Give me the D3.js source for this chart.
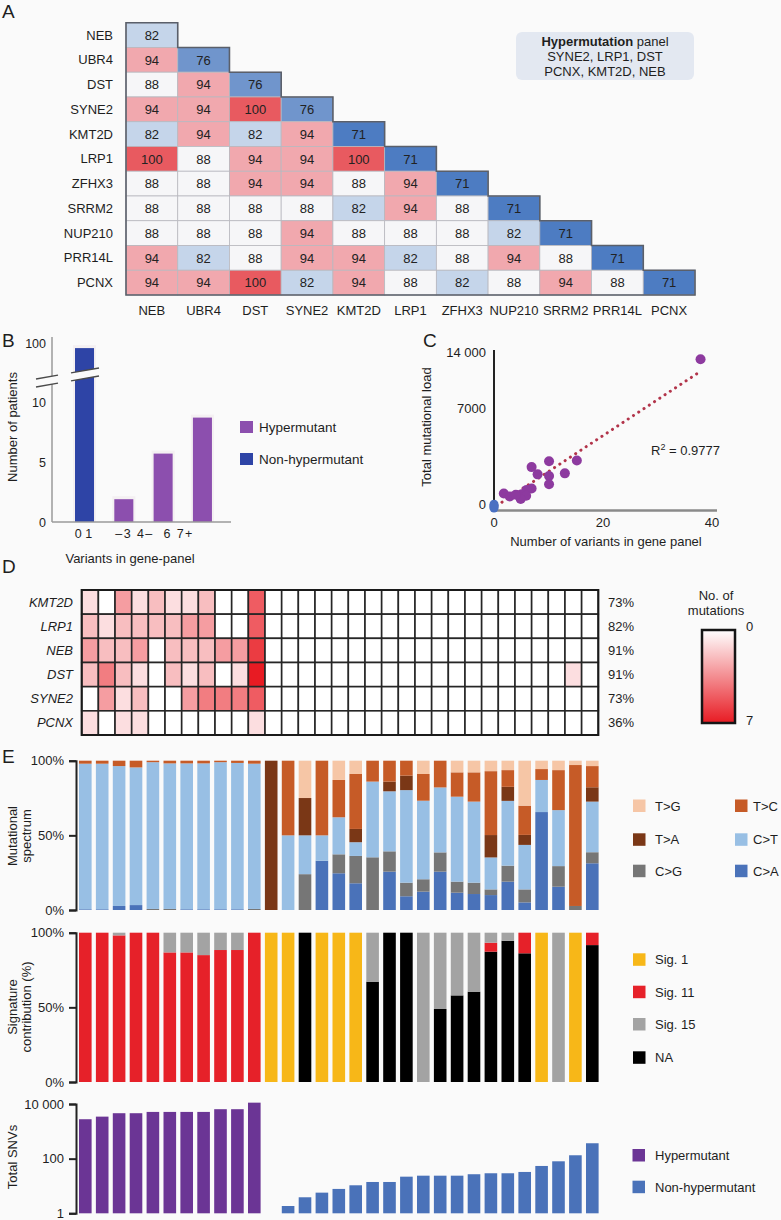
<!DOCTYPE html>
<html><head><meta charset="utf-8">
<script src="https://cdn.jsdelivr.net/npm/d3@7"></script>
<style>
body{margin:0;background:#fafafa;}
svg{display:block;font-family:"Liberation Sans",Arial,Helvetica,sans-serif;}
</style></head><body>
<svg id="fig" width="781" height="1220"></svg>
<script>
// ---------------- Panel A data ----------------
const aRowGenes = ["NEB","UBR4","DST","SYNE2","KMT2D","LRP1","ZFHX3","SRRM2","NUP210","PRR14L","PCNX"];
const aColGenes = ["NEB","UBR4","DST","SYNE2","KMT2D","LRP1","ZFHX3","NUP210","SRRM2","PRR14L","PCNX"];
const aValues = [
  [82],
  [94,76],
  [88,94,76],
  [94,94,100,76],
  [82,94,82,94,71],
  [100,88,94,94,100,71],
  [88,88,94,94,88,94,71],
  [88,88,88,88,82,94,88,71],
  [88,88,88,94,88,88,88,82,71],
  [94,82,88,94,94,82,88,94,88,71],
  [94,94,100,82,94,88,82,88,94,88,71]
];
const aPanelTitle = ["Hypermutation", " panel"];
const aPanelGenes = ["SYNE2, LRP1, DST","PCNX, KMT2D, NEB"];

// ---------------- Panel B data ----------------
const bCategories = ["0–1","2–3","4–6","7+"];
const bPatients = [97, 1.9, 5.7, 8.7];
const bGroups = ["Non-hypermutant","Hypermutant","Hypermutant","Hypermutant"];
const bYTicks = [0,5,10,100];
const bTickText = ["0 1","–3 4–  6 7+"];

// ---------------- Panel C data ----------------
const cHyperVariants = [37.9,10.1,15.2,6.9,8.0,10.1,13.0,10.1,1.8,2.9,6.9,6.0,5.1,5.9,4.9,4.0];
const cHyperLoad = [13090,3278,3326,2862,2356,2239,2426,1663,1019,811,1365,1268,970,852,624,922];
const cNonVariants = [0,0,0,0];
const cNonLoad = [0,80,160,260];
const cFitX = [0.5,37.8];
const cFitY = [160,11540];
const cYTicks = [0,7000,14000];
const cYTickText = ["0","7000","14 000"];
const cXTicks = [0,20,40];

// ---------------- Panel D data ----------------
const dGenes = ["KMT2D","LRP1","NEB","DST","SYNE2","PCNX"];
const dPercent = ["73%","82%","91%","91%","73%","36%"];
const dKMT2D = [1,0,3,1,2,1,1,2,0,0,5, 0,0,0,0,0,0,0,0,0,0,0,0,0,0,0,0,0,0,0,0];
const dLRP1  = [2,1,2,2,2,2,3,3,0,0,5, 0,0,0,0,0,0,0,0,0,0,0,0,0,0,0,0,0,0,0,0];
const dNEB   = [3,2,2,3,0,2,2,2,3,3,6, 0,0,0,0,0,0,0,0,0,0,0,0,0,0,0,0,0,0,0,0];
const dDST   = [2,4,2,1,0,2,1,2,0,1,7, 0,0,0,0,0,0,0,0,0,0,0,0,0,0,0,0,0,0,1,0];
const dSYNE2 = [0,3,1,2,0,0,3,4,4,4,5, 0,0,0,0,0,0,0,0,0,0,0,0,0,0,0,0,0,0,0,0];
const dPCNX  = [1,0,1,1,0,0,0,0,0,0,1, 0,0,0,0,0,0,0,0,0,0,0,0,0,0,0,0,0,0,0,0];

// ---------------- Panel E data ----------------
const specKeys = ["C>A","C>G","C>T","T>A","T>C","T>G"];
const specCA = [0.5,0.5,2.7,3.3,0,0,0.5,0.5,0.5,0.5,0, 0,0,0,33,24.6,17.9,0,25.7,9.2,12.3,25.7,11.6,10.7,10,19,5.1,65.6,15.6,0,31.3];
const specCG = [0,0,0,0,0.7,0.7,0,0,0,0,0.7, 0,0,24,0,12.7,18.3,35.3,13.6,9.1,8.3,12.9,7.4,7.6,3.8,10.7,8.7,0,13.8,2.7,7.4];
const specCT = [97.5,97.5,93.7,92.2,98.3,97.5,97.7,97.7,98.5,98,97.3, 0,50,26,17,24.8,9.2,50.7,40.2,62,52.6,43.5,56.9,54.3,21.4,43.4,29.8,21.5,37.5,0,33.9];
const specTA = [0,0,0,0,0,0,0,0,0,0,0, 100,0,25,0,0,8.9,0,6.5,9.7,0,0,0,0,15,9.4,6.7,0,0,0,9.6];
const specTC = [2,2,3.6,4.5,1,1.8,1.8,1.8,1,1.5,2, 0,50,0,50,25,36.8,14,14,10,17.9,17.9,16.3,19.6,42.8,11.2,19.6,7.3,26.8,94.4,14.2];
const specTG = [0,0,0,0,0,0,0,0,0,0,0, 0,0,25,0,12.9,8.9,0,0,0,8.9,0,7.8,7.8,7,6.3,30.1,5.6,6.3,2.9,3.6];

const sigKeys = ["NA","Sig. 1","Sig. 11","Sig. 15"];
const sigNA  = [0,0,0,0,0,0,0,0,0,0,0, 0,0,100,0,0,0,67.2,100,100,0,48.9,58,60.5,87.3,94.6,86.2,0,0,0,91.7];
const sig1   = [0,0,0,0,0,0,0,0,0,0,0, 100,100,0,100,100,100,0,0,0,0,0,0,0,0,0,0,100,0,100,0];
const sig11  = [100,100,98.2,100,100,86.8,86.8,85,88.4,88.4,100, 0,0,0,0,0,0,0,0,0,0,0,0,0,6,0,13.8,0,0,0,8.3];
const sig15  = [0,0,1.8,0,0,13.2,13.2,15,11.6,11.6,0, 0,0,0,0,0,0,32.8,0,0,100,51.1,42,39.5,6.7,5.4,0,0,100,0,0];

const snvTotal = [2770,3450,4600,4600,5130,5130,5130,5130,6450,6450,11200, 1,1.85,3.86,5.7,7.8,10.6,14,14,21.9,23.8,23.8,23.8,26.9,29.2,29.2,32.6,54,80,133,366];
const snvGroup = ["Hypermutant","Hypermutant","Hypermutant","Hypermutant","Hypermutant","Hypermutant","Hypermutant","Hypermutant","Hypermutant","Hypermutant","Hypermutant",
  "Non-hypermutant","Non-hypermutant","Non-hypermutant","Non-hypermutant","Non-hypermutant","Non-hypermutant","Non-hypermutant","Non-hypermutant","Non-hypermutant","Non-hypermutant",
  "Non-hypermutant","Non-hypermutant","Non-hypermutant","Non-hypermutant","Non-hypermutant","Non-hypermutant","Non-hypermutant","Non-hypermutant","Non-hypermutant","Non-hypermutant"];

// ---------------- drawing ----------------
const svg = d3.select("#fig");
const TXT = "#1e1e1e";
function txt(g,t,x,y,opt={}){
  const e = g.append("text").attr("x",x).attr("y",y).attr("font-size",opt.size||13).attr("fill",opt.fill||TXT).text(t);
  if(opt.anchor) e.attr("text-anchor",opt.anchor);
  if(opt.style) e.attr("font-style",opt.style);
  if(opt.weight) e.attr("font-weight",opt.weight);
  if(opt.rotate) e.attr("transform",`rotate(-90,${x},${y})`);
  return e;
}
[["A",2,18],["B",2,347],["C",423,347],["D",2,573],["E",2,763]].forEach(d=>txt(svg,d[0],d[1],d[2],{size:19}));

// ===== Panel A =====
const gA = svg.append("g");
const ax = d3.scaleBand().domain(d3.range(aColGenes.length)).range([126,695]);
const ay = d3.scaleBand().domain(d3.range(aRowGenes.length)).range([22.7,295]);
const aColor = d3.scaleLinear().domain([71,76,82,88,94,100])
  .range(["#4d7cc2","#7095cc","#c5d5ea","#f6f6f8","#f1a8ae","#e85a60"]);
const aCells = [];
aValues.forEach((row,i)=>row.forEach((v,j)=>aCells.push({i,j,v})));
gA.selectAll("rect.cell").data(aCells).join("rect")
  .attr("x",d=>ax(d.j)).attr("y",d=>ay(d.i))
  .attr("width",ax.bandwidth()).attr("height",ay.bandwidth())
  .attr("fill",d=>aColor(d.v)).attr("stroke","#b8b8bf").attr("stroke-width",0.8);
gA.selectAll("text.val").data(aCells).join("text")
  .attr("x",d=>ax(d.j)+ax.bandwidth()/2).attr("y",d=>ay(d.i)+ay.bandwidth()/2)
  .attr("dy","0.36em").attr("text-anchor","middle").attr("font-size",13).attr("fill","#222")
  .text(d=>d.v);
{
  const bw=ax.bandwidth(), bh=ay.bandwidth();
  let p = `M${ax(0)},${ay(0)}`;
  for(let i=0;i<aRowGenes.length;i++){ p += `H${ax(i)+bw}V${ay(i)+bh}`; }
  p += `H${ax(0)}Z`;
  gA.append("path").attr("d",p).attr("fill","none").attr("stroke","#5a5f6a").attr("stroke-width",1.6);
}
aRowGenes.forEach((g,i)=>txt(gA,g,113,ay(i)+ay.bandwidth()/2+4.5,{anchor:"end",size:13}));
aColGenes.forEach((g,j)=>txt(gA,g,ax(j)+ax.bandwidth()/2,315,{anchor:"middle",size:13}));
gA.append("rect").attr("x",516).attr("y",32).attr("width",178).attr("height",48).attr("rx",6)
  .attr("fill","#e3e8f1");
{
  const t = gA.append("text").attr("x",605).attr("y",46).attr("text-anchor","middle").attr("font-size",13).attr("fill",TXT);
  t.append("tspan").attr("font-weight","bold").text(aPanelTitle[0]);
  t.append("tspan").text(aPanelTitle[1]);
  aPanelGenes.forEach((s,k)=>txt(gA,s,605,61+k*15,{anchor:"middle",size:13}));
}

// ===== Panel B =====
const gB = svg.append("g");
const xB = d3.scaleBand().domain(bCategories).range([55.35,231.6]).paddingInner(0.516).paddingOuter(0.5);
const yB = d3.scaleLinear().domain([0,10,90,100]).range([522,402,360,343]);
const bColor = {"Hypermutant":"#8c4fae","Non-hypermutant":"#2e44a6"};
gB.selectAll("rect.glow").data(bCategories).join("rect")
  .attr("x",d=>xB(d)-2).attr("y",(d,i)=>yB(bPatients[i])-3)
  .attr("width",xB.bandwidth()+4).attr("height",(d,i)=>yB(0)-yB(bPatients[i])+3)
  .attr("fill","#f4f0f2");
gB.selectAll("rect.bar").data(bCategories).join("rect")
  .attr("x",d=>xB(d)).attr("y",(d,i)=>yB(bPatients[i]))
  .attr("width",xB.bandwidth()).attr("height",(d,i)=>yB(0)-yB(bPatients[i]))
  .attr("fill",(d,i)=>bColor[bGroups[i]]);
gB.append("line").attr("x1",52).attr("x2",52).attr("y1",337).attr("y2",yB(0)).attr("stroke","#9a9a9a").attr("stroke-width",1.5);
gB.append("line").attr("x1",52).attr("x2",231).attr("y1",yB(0)).attr("y2",yB(0)).attr("stroke","#9a9a9a").attr("stroke-width",1.5);
// axis break
{
  const yb = yB(10)-26, x0=36, x1=99;
  gB.append("polygon").attr("points",`${x0},${yb+3} ${x1},${yb-8} ${x1},${yb} ${x0},${yb+11}`).attr("fill","#fafafa");
  [[36,58],[71,99]].forEach(([a,b])=>{
    [3,11].forEach(o=>{
      const f = x=> yb+o - (x-x0)*11/(x1-x0);
      gB.append("line").attr("x1",a).attr("x2",b).attr("y1",f(a)).attr("y2",f(b)).attr("stroke","#4a4a4a").attr("stroke-width",1.3);
    });
  });
}
bYTicks.forEach(v=>txt(gB,String(v),46,yB(v)+4.5,{anchor:"end",size:12.5}));
txt(gB,bTickText[0],xB(bCategories[0])+xB.bandwidth()/2-1,538,{anchor:"middle",size:12.5});
txt(gB,bTickText[1],xB(bCategories[1])+1,538,{size:12.5}).attr("xml:space","preserve").attr("textLength",77).attr("lengthAdjust","spacing");
txt(gB,"Variants in gene-panel",130,563,{anchor:"middle",size:13});
txt(gB,"Number of patients",17,427,{anchor:"middle",size:13,rotate:true});
[["Hypermutant",421],["Non-hypermutant",453]].forEach(([k,y])=>{
  gB.append("rect").attr("x",240).attr("y",y).attr("width",13).attr("height",12).attr("fill",bColor[k]);
  txt(gB,k,259,y+11,{size:13.5});
});

// ===== Panel C =====
const gC = svg.append("g");
const xC = d3.scaleLinear().domain([0,40]).range([494,712]);
const yC = d3.scaleLinear().domain([0,7000,14000]).range([508,408,352]);
gC.append("line").attr("x1",494).attr("x2",717).attr("y1",510.5).attr("y2",510.5).attr("stroke","#8a8a8a").attr("stroke-width",2.5);
gC.append("line").attr("x1",494).attr("x2",494).attr("y1",350).attr("y2",511).attr("stroke","#222").attr("stroke-width",2);
cYTicks.forEach((v,i)=>txt(gC,cYTickText[i],486,yC(v)+(v===0?1:4.5),{anchor:"end",size:13}));
cXTicks.forEach(v=>txt(gC,String(v),xC(v),527,{anchor:"middle",size:13}));
gC.append("line").attr("x1",xC(cFitX[0])).attr("y1",yC(cFitY[0])).attr("x2",xC(cFitX[1])).attr("y2",yC(cFitY[1]))
  .attr("stroke","#b2344a").attr("stroke-width",3).attr("stroke-dasharray","0.1 6.2").attr("stroke-linecap","round");
gC.selectAll("circle.non").data(cNonLoad).join("circle")
  .attr("cx",(d,i)=>xC(cNonVariants[i])).attr("cy",d=>yC(d)).attr("r",4.5).attr("fill","#4a70c2");
gC.selectAll("circle.hyp").data(cHyperLoad).join("circle")
  .attr("cx",(d,i)=>xC(cHyperVariants[i])).attr("cy",d=>yC(d)).attr("r",5).attr("fill","#8d3a9f");
{
  const t = gC.append("text").attr("x",651).attr("y",455).attr("font-size",13).attr("fill",TXT);
  t.append("tspan").text("R");
  t.append("tspan").attr("font-size",9).attr("dy",-5).text("2");
  t.append("tspan").attr("dy",5).text(" = 0.9777");
}
txt(gC,"Total mutational load",431,427,{anchor:"middle",size:13,rotate:true});
txt(gC,"Number of variants in gene panel",606,546,{anchor:"middle",size:13});

// ===== Panel D =====
const gD = svg.append("g");
const dRows = [dKMT2D,dLRP1,dNEB,dDST,dSYNE2,dPCNX];
const dx = d3.scaleBand().domain(d3.range(dKMT2D.length)).range([81.7,598.3]);
const dy = d3.scaleBand().domain(dGenes).range([590,735]);
const dColor = d3.scaleLinear().domain([0,7]).range(["#ffffff","#e81b23"]);
const dCells = [];
dRows.forEach((row,i)=>row.forEach((v,j)=>dCells.push({g:dGenes[i],j,v})));
gD.selectAll("rect").data(dCells).join("rect")
  .attr("x",d=>dx(d.j)).attr("y",d=>dy(d.g)).attr("width",dx.bandwidth()).attr("height",dy.bandwidth())
  .attr("fill",d=>dColor(d.v)).attr("stroke","#262626").attr("stroke-width",1.6);
gD.append("rect").attr("x",81.7).attr("y",590).attr("width",598.3-81.7).attr("height",145)
  .attr("fill","none").attr("stroke","#1a1a1a").attr("stroke-width",2);
dGenes.forEach((g,i)=>{
  txt(gD,g,73,dy(g)+dy.bandwidth()/2+4.5,{anchor:"end",style:"italic",size:13});
  txt(gD,dPercent[i],608,dy(g)+dy.bandwidth()/2+4.5,{size:13});
});
{
  const defs = svg.append("defs");
  const lg = defs.append("linearGradient").attr("id","dgrad").attr("x1",0).attr("x2",0).attr("y1",0).attr("y2",1);
  lg.append("stop").attr("offset","0%").attr("stop-color",dColor(0));
  lg.append("stop").attr("offset","100%").attr("stop-color",dColor(7));
  gD.append("rect").attr("x",702).attr("y",630).attr("width",33).attr("height",93)
    .attr("fill","url(#dgrad)").attr("stroke","#151515").attr("stroke-width",2.5);
  txt(gD,"No. of",716,600,{anchor:"middle",size:13});
  txt(gD,"mutations",716,615,{anchor:"middle",size:13});
  txt(gD,"0",746,631,{size:13});
  txt(gD,"7",746,725,{size:13});
}

// ===== Panel E =====
const gE = svg.append("g");
const ex = d3.scaleBand().domain(d3.range(specCA.length)).range([76.85,600.75]).paddingInner(0.254).paddingOuter(0.127);
const specColor = {"T>G":"#f6c6a6","T>C":"#c65b27","T>A":"#7a3716","C>T":"#98bfe4","C>G":"#767676","C>A":"#4a72b9"};
const sigColor = {"Sig. 1":"#f7b718","Sig. 11":"#e62129","Sig. 15":"#a3a3a3","NA":"#000000"};
const snvColor = {"Hypermutant":"#6b3595","Non-hypermutant":"#4a72b9"};

function styleAxis(g){
  g.select(".domain").attr("stroke","#222").attr("stroke-width",2);
  g.selectAll(".tick line").attr("stroke","#222").attr("stroke-width",2);
  g.selectAll(".tick text").attr("font-size",13).attr("fill",TXT).attr("font-family","Liberation Sans, Arial, sans-serif").attr("x",-12);
}

// spectrum
const eyS = d3.scaleLinear().domain([0,100]).range([910,760.7]);
const specTable = d3.range(specCA.length).map(i=>({"C>A":specCA[i],"C>G":specCG[i],"C>T":specCT[i],"T>A":specTA[i],"T>C":specTC[i],"T>G":specTG[i]}));
const specStack = d3.stack().keys(specKeys)(specTable);
gE.append("g").selectAll("g").data(specStack).join("g").attr("fill",d=>specColor[d.key])
  .selectAll("rect").data(d=>d).join("rect")
  .attr("x",(d,i)=>ex(i)).attr("width",ex.bandwidth())
  .attr("y",d=>eyS(d[1])).attr("height",d=>eyS(d[0])-eyS(d[1]));
function pctAxis(scale){
  const g = gE.append("g").attr("transform","translate(76,0)")
    .call(d3.axisLeft(scale).tickValues([0,50,100]).tickFormat(d=>d+"%").tickSize(7).tickSizeOuter(7));
  styleAxis(g);
}
pctAxis(eyS);
txt(gE,"Mutational",16.5,836,{anchor:"middle",size:13,rotate:true});
txt(gE,"spectrum",31,836,{anchor:"middle",size:13,rotate:true});
[["T>G",633,805.5],["T>C",735,805.5],["T>A",633,839.3],["C>T",735,839.3],["C>G",633,870.7],["C>A",735,870.7]].forEach(([k,x,y])=>{
  gE.append("rect").attr("x",x).attr("y",y-6).attr("width",12.5).attr("height",12.5).attr("fill",specColor[k]);
  txt(gE,k,x+(x===633?22:18),y+5,{size:13});
});

// signatures
const eySig = d3.scaleLinear().domain([0,100]).range([1082,932.7]);
const sigTable = d3.range(sigNA.length).map(i=>({"NA":sigNA[i],"Sig. 1":sig1[i],"Sig. 11":sig11[i],"Sig. 15":sig15[i]}));
const sigStack = d3.stack().keys(sigKeys)(sigTable);
gE.append("g").selectAll("g").data(sigStack).join("g").attr("fill",d=>sigColor[d.key])
  .selectAll("rect").data(d=>d).join("rect")
  .attr("x",(d,i)=>ex(i)).attr("width",ex.bandwidth())
  .attr("y",d=>eySig(d[1])).attr("height",d=>eySig(d[0])-eySig(d[1]));
pctAxis(eySig);
txt(gE,"Signature",16.5,1007,{anchor:"middle",size:13,rotate:true});
txt(gE,"contribution (%)",31,1007,{anchor:"middle",size:13,rotate:true});
[["Sig. 1",959.3],["Sig. 11",991.7],["Sig. 15",1024],["NA",1057.3]].forEach(([k,y])=>{
  gE.append("rect").attr("x",633).attr("y",y-6).attr("width",12.5).attr("height",12.5).attr("fill",sigColor[k]);
  txt(gE,k,655,y+5,{size:13});
});

// total SNVs
const eyL = d3.scaleLog().domain([1,10000]).range([1213.3,1104]);
gE.append("g").selectAll("rect").data(snvTotal).join("rect")
  .attr("x",(d,i)=>ex(i)).attr("width",ex.bandwidth())
  .attr("y",d=>eyL(d)).attr("height",d=>eyL(1)-eyL(d))
  .attr("fill",(d,i)=>snvColor[snvGroup[i]]);
{
  const g = gE.append("g").attr("transform","translate(76,0)")
    .call(d3.axisLeft(eyL).tickValues([1,100,10000]).tickFormat(d=>d===10000?"10 000":String(d)).tickSize(7).tickSizeOuter(7));
  styleAxis(g);
}
txt(gE,"Total SNVs",17,1157,{anchor:"middle",size:13,rotate:true});
[["Hypermutant",1155],["Non-hypermutant",1186.7]].forEach(([k,y])=>{
  gE.append("rect").attr("x",632.5).attr("y",y-6).attr("width",12.5).attr("height",12.5).attr("fill",snvColor[k]);
  txt(gE,k,655,y+5,{size:13});
});
</script>
</body></html>
